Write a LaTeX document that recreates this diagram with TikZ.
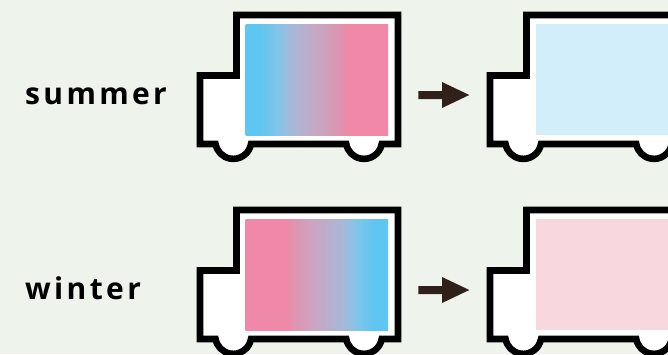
\documentclass[tikz,border=0pt]{standalone}
\usepackage{fontspec}
\setmainfont{Open Sans}
\newfontfamily\labelfont[LetterSpace=11.2,BoldFont={Open Sans Bold}]{Open Sans}
\definecolor{bgc}{HTML}{EEF3EC}
\definecolor{cyanc}{HTML}{5EC6F0}
\definecolor{pinkc}{HTML}{EF88A9}
\definecolor{lcyan}{HTML}{D2EEFA}
\definecolor{lpink}{HTML}{F8D7DF}
\definecolor{arrowc}{HTML}{30201A}
\definecolor{ga}{HTML}{80C5EA}
\definecolor{gb}{HTML}{A5B9D9}
\definecolor{gc}{HTML}{CDA3BF}
\definecolor{gd}{HTML}{DE94B0}
\pgfdeclarehorizontalshading{coldwarm}{100bp}{
  color(0bp)=(cyanc); color(30bp)=(cyanc); color(36bp)=(ga);
  color(40.6bp)=(gb); color(52bp)=(gc); color(58bp)=(gd); color(60.6bp)=(pinkc); color(100bp)=(pinkc)}
\pgfdeclarehorizontalshading{warmcold}{100bp}{
  color(0bp)=(pinkc); color(39.4bp)=(pinkc); color(42bp)=(gd);
  color(48bp)=(gc); color(59.4bp)=(gb); color(64bp)=(ga); color(70bp)=(cyanc); color(100bp)=(cyanc)}
\tikzset{
  truckbody/.style={draw=black,fill=white,line width=6.6pt,miter limit=10},
  cargo/.style={draw=none},
  rowlabel/.style={anchor=base west,inner sep=0pt,font=\labelfont\bfseries\fontsize{30}{30}\selectfont,text=black},
  moveto/.style={fill=arrowc,draw=none}
}
\newcommand{\truckat}[3]{%
  \begin{scope}[shift={(#1,#2)}]
    \draw[truckbody] (200,-75.5) -- (236.5,-75.5) -- (236.5,-15) -- (398,-15) -- (398,-144)
      -- (381.7,-144) arc[start angle=-10,end angle=-170,radius=18]
      -- (251,-144) arc[start angle=-10,end angle=-170,radius=18]
      -- (200,-144) -- cycle;
    \path[cargo,#3] (245.7,-24) rectangle (388,-135);
  \end{scope}}
\newcommand{\movearrow}[1]{%
  \path[moveto] (418.3,{#1-4}) -- (442,{#1-4}) -- (442,{#1-13}) -- (469.3,#1) -- (442,{#1+13}) -- (442,{#1+4}) -- (418.3,{#1+4}) -- cycle;}
\begin{document}
\begin{tikzpicture}[x=1pt,y=1pt]
  \useasboundingbox (0,0) rectangle (668,-354);
  \clip (0,0) rectangle (668,-354);
  \fill[bgc] (0,0) rectangle (668,-354);
  \node[rowlabel] (summer) at (25,-104.5) {summer};
  \node[rowlabel] (winter) at (25,-299.5) {winter};
  \truckat{0}{0}{shading=coldwarm}
  \truckat{290}{0}{fill=lcyan}
  \truckat{0}{-195}{shading=warmcold}
  \truckat{290}{-195}{fill=lpink}
  \movearrow{-95}
  \movearrow{-290}
\end{tikzpicture}
\end{document}
